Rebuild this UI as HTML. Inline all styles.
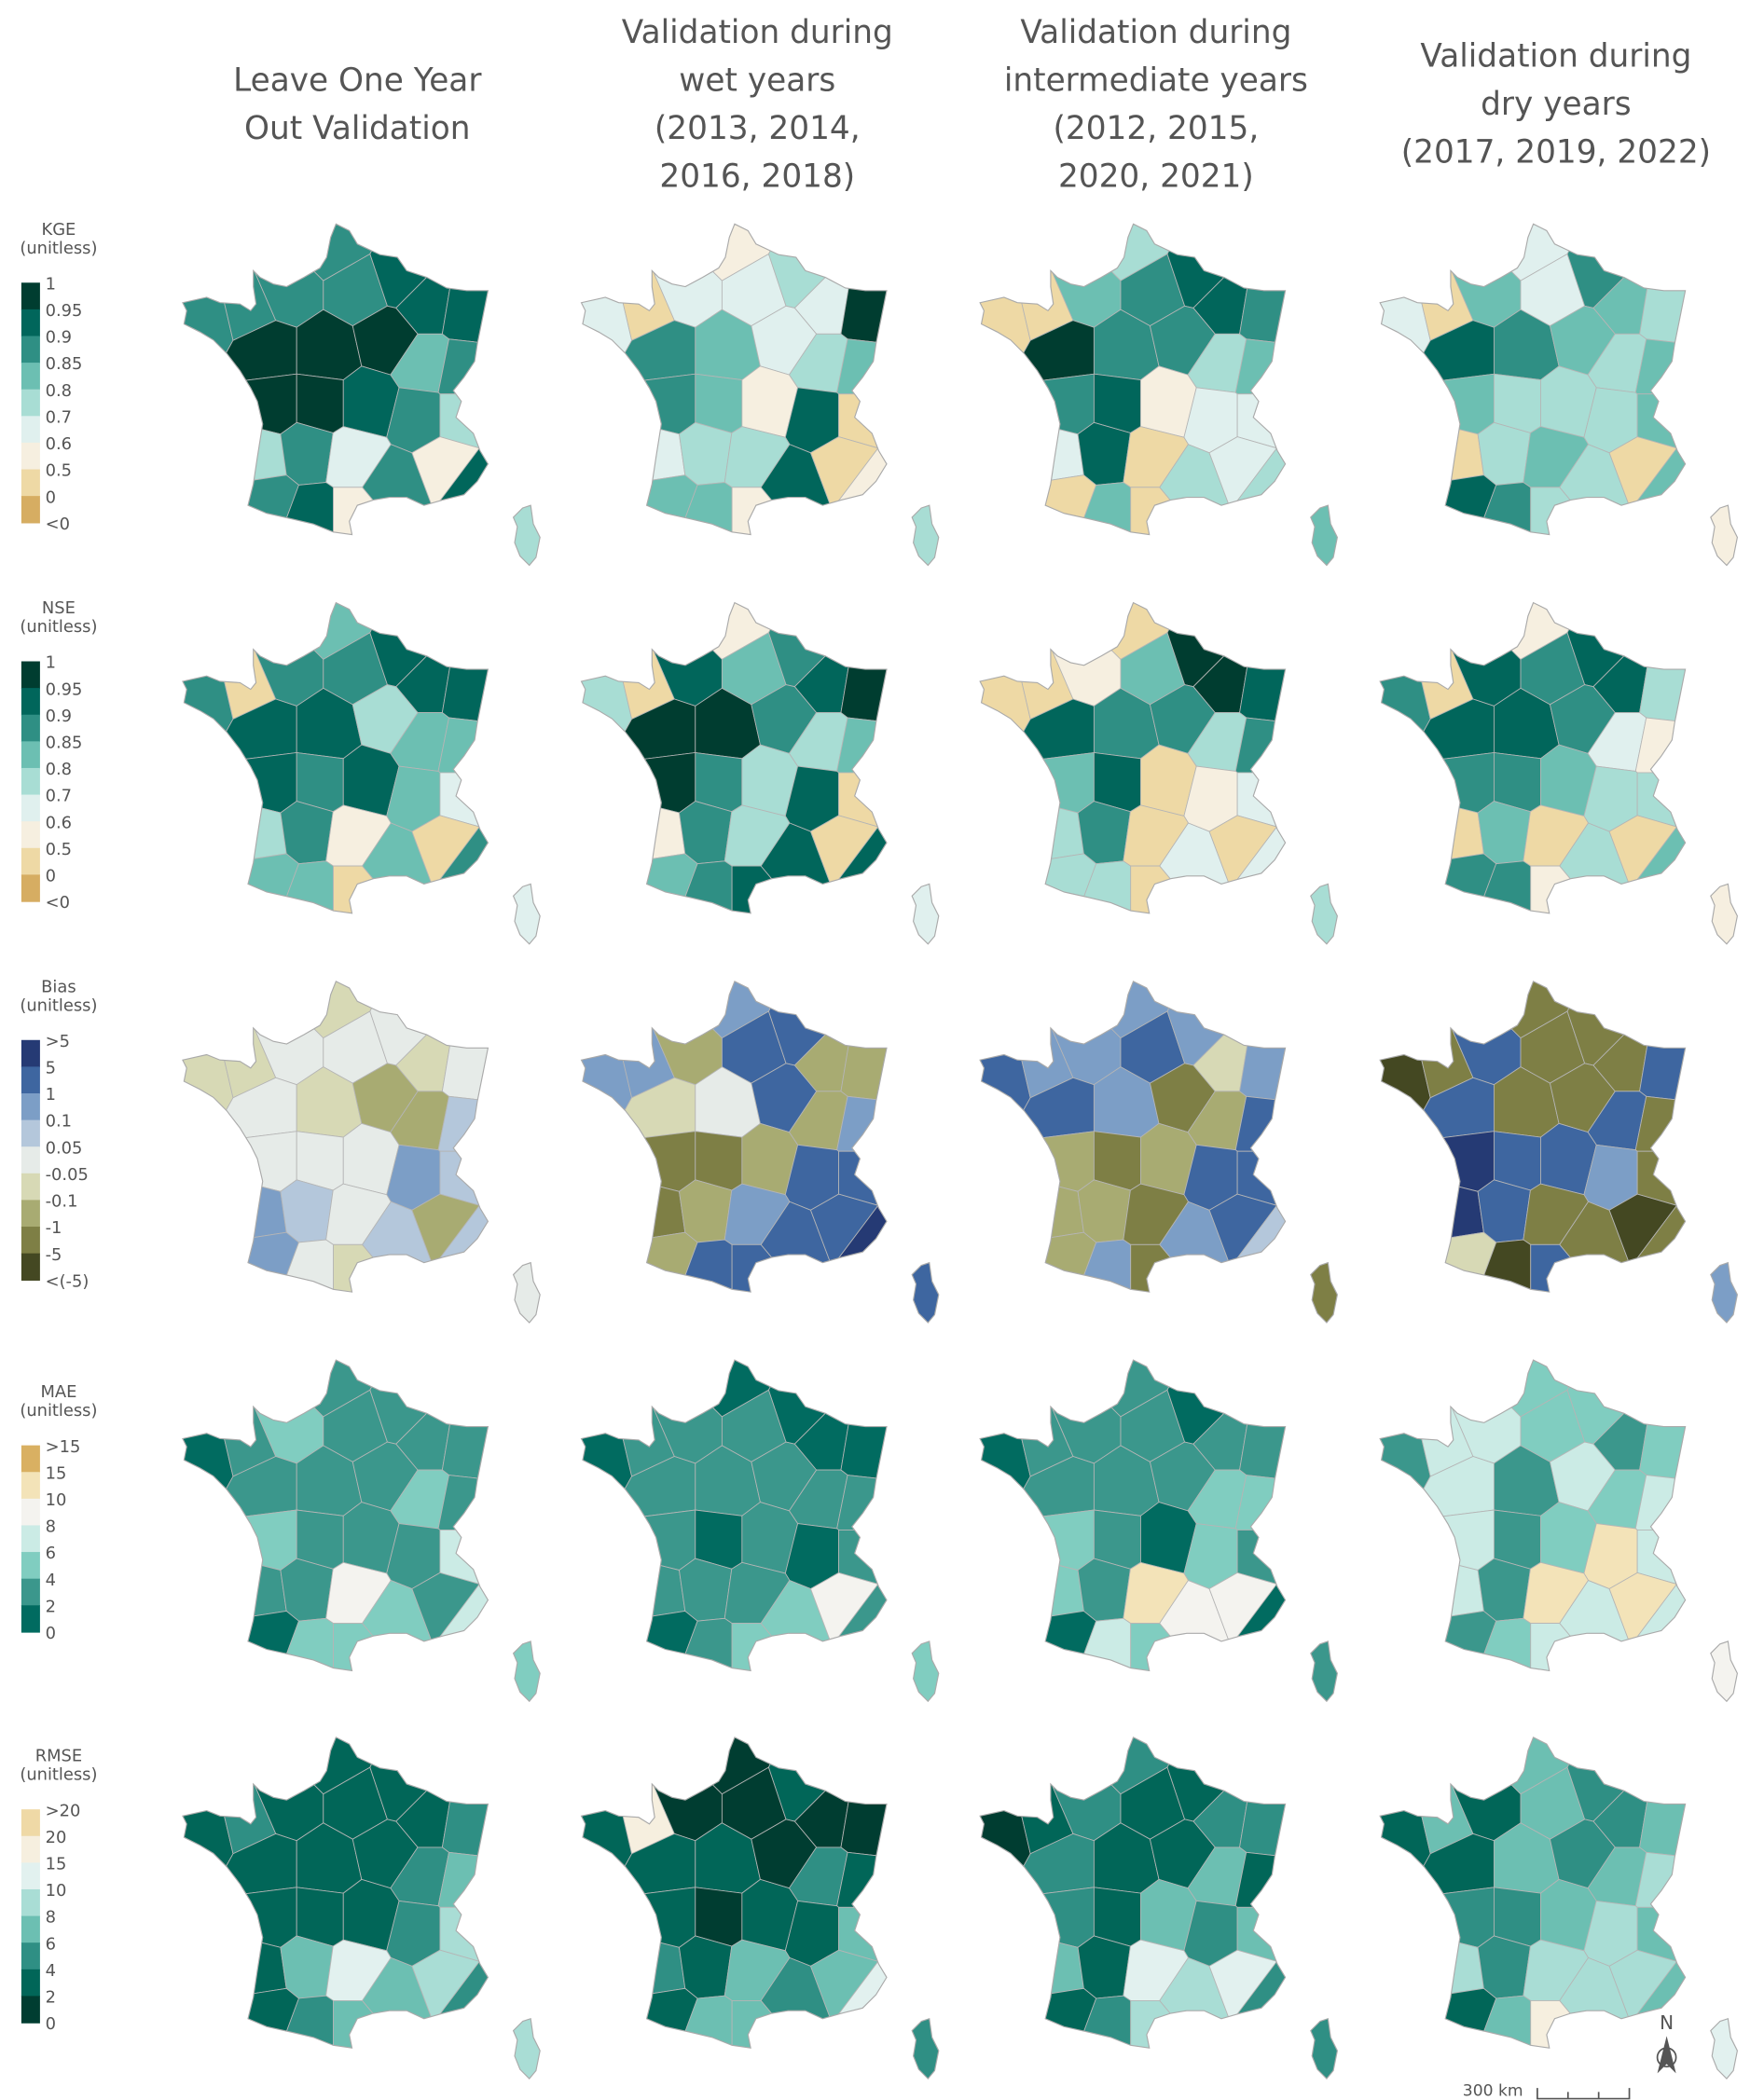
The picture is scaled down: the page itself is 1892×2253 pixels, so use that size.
<!DOCTYPE html>
<html><head><meta charset="utf-8"><style>
html,body{margin:0;padding:0;background:#fff;}
svg{display:block;font-family:"DejaVu Sans","Liberation Sans",sans-serif;}
</style></head><body>
<svg id="fig" width="1892" height="2253" viewBox="0 0 1323 1575" preserveAspectRatio="none" xmlns="http://www.w3.org/2000/svg">
<g id="titles" fill="#555" font-size="24" text-anchor="middle">
<text x="268" y="68">Leave One Year</text>
<text x="268" y="104">Out Validation</text>
<text x="568" y="32">Validation during</text>
<text x="568" y="68">wet years</text>
<text x="568" y="104">(2013, 2014,</text>
<text x="568" y="140">2016, 2018)</text>
<text x="867" y="32">Validation during</text>
<text x="867" y="68">intermediate years</text>
<text x="867" y="104">(2012, 2015,</text>
<text x="867" y="140">2020, 2021)</text>
<text x="1167" y="50">Validation during</text>
<text x="1167" y="86">dry years</text>
<text x="1167" y="122">(2017, 2019, 2022)</text>
</g>
<g id="maps"></g>
<g id="legends"></g>
<g id="scalebar" stroke="#555" fill="none" stroke-width="1.2">
<text x="1097" y="1572" fill="#555" stroke="none" font-size="12">300 km</text>
<path d="M1153 1566 V1574 H1222 V1566 M1176 1574 V1569 M1199 1574 V1569"/>
</g>
<g id="north-arrow">
<text x="1250" y="1522" fill="#555" font-size="14" text-anchor="middle">N</text>
<circle cx="1250" cy="1543" r="7" fill="none" stroke="#555" stroke-width="1.2"/>
<path d="M1250 1527 L1257 1555 L1250 1548 L1243 1555 Z" fill="#555"/>
</g>
</svg>
<script>
// ---- data ----
const seeds = [[155,235],[185,228],[215,215],[250,180],[270,215],[300,205],[320,225],[350,230],[200,260],[245,260],[290,250],[320,270],[345,275],[205,300],[240,300],[275,300],[315,310],[345,310],[195,340],[230,335],[265,340],[295,360],[335,345],[355,360],[200,372],[235,385],[265,385]];
const metrics = ["KGE","NSE","Bias","MAE","RMSE"];
const periods = ["loyo","wet","intermediate","dry"];
const kgeLabels = ["1","0.95","0.9","0.85","0.8","0.7","0.6","0.5","0","<0"];
const kgeEdges = [0.95,0.9,0.85,0.8,0.7,0.6,0.5,0];
const kgeColors = ["#003d30","#01665b","#2f8f84","#6cbfb2","#a8ddd4","#e0f0ee","#f6efe0","#eed9a5","#d6ad62"];
const biasLabels = [">5","5","1","0.1","0.05","-0.05","-0.1","-1","-5","<(-5)"];
const biasEdges = [5,1,0.1,0.05,-0.05,-0.1,-1,-5];
const biasColors = ["#253a74","#3e66a0","#7c9ec6","#b4c7db","#e6ebe8","#d7d9b5","#a8ab72","#7e7f45","#444822"];
const maeLabels = [">15","15","10","8","6","4","2","0"];
const maeEdges = [15,10,8,6,4,2];
const maeColors = ["#d9b062","#f3e3b8","#f4f3ef","#cbebe5","#80cdc0","#3b978c","#016b60"];
const rmseLabels = [">20","20","15","10","8","6","4","2","0"];
const rmseEdges = [20,15,10,8,6,4,2];
const rmseColors = ["#efd9a6","#f6efdf","#e2f1ef","#a9ddd5","#6cbfb2","#2f8f84","#016658","#003d31"];
// values per seed, last entry = Corsica
const kgeLoyo = [.87,.85,.87,.87,.87,.92,.92,.92,.97,.97,.97,.83,.87,.97,.97,.92,.87,.75,.75,.87,.65,.87,.55,.92,.87,.92,.55,.75];
const kgeWet = [.65,.4,.65,.55,.65,.75,.65,.97,.87,.83,.65,.75,.83,.87,.83,.55,.92,.3,.65,.75,.75,.92,.3,.55,.83,.83,.55,.75];
const kgeInter = [.2,.2,.83,.75,.87,.92,.92,.87,.97,.87,.87,.75,.83,.87,.92,.55,.65,.65,.65,.92,.45,.75,.65,.75,.45,.83,.45,.83];
const kgeDry = [.65,.45,.83,.65,.65,.87,.83,.75,.92,.87,.83,.75,.83,.83,.75,.75,.75,.83,.45,.75,.83,.75,.45,.83,.92,.87,.75,.55];
const nseLoyo = [.87,.45,.87,.83,.87,.92,.92,.92,.92,.92,.75,.83,.83,.92,.87,.92,.83,.65,.75,.87,.55,.83,.45,.87,.83,.83,.45,.65];
const nseWet = [.75,.4,.92,.55,.83,.87,.92,.97,.97,.97,.87,.75,.83,.97,.87,.75,.92,.3,.55,.87,.75,.92,.45,.92,.83,.87,.92,.65];
const nseInter = [.2,.2,.55,.45,.83,.97,.97,.92,.92,.87,.87,.75,.87,.83,.92,.3,.55,.65,.75,.87,.45,.65,.45,.65,.75,.75,.45,.75];
const nseDry = [.87,.45,.92,.55,.87,.92,.92,.75,.92,.92,.87,.65,.55,.87,.87,.83,.75,.75,.45,.83,.45,.75,.45,.83,.87,.87,.55,.55];
const biasLoyo = [-.07,-.07,0,-.07,0,0,-.07,0,0,-.07,-.5,-.5,.07,0,0,0,.5,.07,.5,.07,0,.07,-.5,.07,.5,0,-.07,0];
const biasWet = [.5,.5,-.5,.5,2,2,-.5,-.5,-.07,0,2,-.5,.5,-2,-2,-.5,2,2,-2,-.5,.5,2,2,6,-.5,2,2,2];
const biasInter = [2,.5,.5,.5,2,.5,-.07,.5,2,.5,-2,-.5,2,-.5,-2,-.5,2,2,-.5,-.5,-2,.5,2,.07,-.5,.5,-2,-2];
const biasDry = [-6,-2,2,-2,-2,-2,-2,2,2,-2,-2,2,-2,6,2,2,.5,-2,6,2,-2,-2,-6,-2,-.07,-6,2,.5];
const maeLoyo = [1,3,5,3,3,3,3,3,3,3,3,5,3,5,3,3,3,7,3,3,9,5,3,7,1,5,5,5];
const maeWet = [1,3,3,1,3,1,1,1,3,3,3,3,3,3,1,3,1,3,3,3,3,5,9,3,1,3,5,5];
const maeInter = [1,3,3,3,3,1,3,3,3,3,3,5,5,5,3,1,5,3,5,3,12,9,9,1,1,7,5,3];
const maeDry = [3,7,7,5,5,5,3,5,7,3,7,5,7,7,3,5,12,7,7,3,12,7,12,7,3,5,7,9];
const rmseLoyo = [3,5,3,3,3,3,3,5,3,3,3,5,7,3,3,3,5,9,3,7,12,7,9,5,3,5,7,9];
const rmseWet = [3,17,1,1,1,3,1,1,3,3,1,5,3,3,1,3,3,7,5,3,7,5,7,12,3,7,7,5];
const rmseInter = [1,3,5,5,3,3,5,5,5,3,3,7,3,5,3,7,5,7,7,3,12,9,12,5,3,5,9,5];
const rmseDry = [3,7,3,7,7,5,5,7,3,7,5,7,9,5,5,7,9,7,9,5,9,9,9,7,3,7,17,12];

// ---- layout ----
const scales = [
 {name:"KGE",labels:kgeLabels,edges:kgeEdges,colors:kgeColors,series:[kgeLoyo,kgeWet,kgeInter,kgeDry]},
 {name:"NSE",labels:kgeLabels,edges:kgeEdges,colors:kgeColors,series:[nseLoyo,nseWet,nseInter,nseDry]},
 {name:"Bias",labels:biasLabels,edges:biasEdges,colors:biasColors,series:[biasLoyo,biasWet,biasInter,biasDry]},
 {name:"MAE",labels:maeLabels,edges:maeEdges,colors:maeColors,series:[maeLoyo,maeWet,maeInter,maeDry]},
 {name:"RMSE",labels:rmseLabels,edges:rmseEdges,colors:rmseColors,series:[rmseLoyo,rmseWet,rmseInter,rmseDry]}
];
const colX=[0,299,598,898], rowY=[0,284,568,852,1135];
const outline=[[252,165],[262,170],[268,180],[285,188],[298,190],[305,200],[320,205],[335,213],[350,215],[366,215],[362,235],[358,255],[356,268],[348,280],[340,290],[346,298],[342,310],[355,322],[360,335],[366,345],[358,358],[348,368],[332,372],[318,376],[305,370],[292,370],[280,372],[268,376],[262,388],[264,398],[250,396],[235,390],[218,386],[200,382],[186,376],[190,360],[193,340],[197,315],[193,298],[188,288],[180,275],[170,262],[160,252],[150,246],[138,240],[140,230],[137,224],[155,220],[165,224],[180,225],[188,230],[192,225],[190,212],[190,200],[195,205],[205,210],[215,212],[228,205],[240,198],[245,190],[248,175]];
const corsica=[[392,378],[398,376],[400,390],[405,400],[402,415],[397,421],[390,414],[386,404],[388,392],[385,385]];
const NS="http://www.w3.org/2000/svg";
function colorFor(v,edges,colors){for(let i=0;i<edges.length;i++){if(v>=edges[i])return colors[i];}return colors[colors.length-1];}
function clipHalf(poly,a,b){ // keep points closer to a than b
  const mx=(a[0]+b[0])/2,my=(a[1]+b[1])/2,dx=b[0]-a[0],dy=b[1]-a[1];
  const f=p=>(p[0]-mx)*dx+(p[1]-my)*dy;
  const out=[];
  for(let i=0;i<poly.length;i++){const p=poly[i],q=poly[(i+1)%poly.length];const fp=f(p),fq=f(q);
    if(fp<=0)out.push(p);
    if((fp<0&&fq>0)||(fp>0&&fq<0)){const t=fp/(fp-fq);out.push([p[0]+t*(q[0]-p[0]),p[1]+t*(q[1]-p[1])]);}}
  return out;
}
const cells=seeds.map((s,i)=>{let poly=[[125,155],[375,155],[375,405],[125,405]];seeds.forEach((o,j)=>{if(i!==j)poly=clipHalf(poly,s,o);});return poly;});
const pts=p=>p.map(q=>q[0].toFixed(1)+","+q[1].toFixed(1)).join(" ");
const maps=document.getElementById("maps");
const defs=document.createElementNS(NS,"defs");maps.appendChild(defs);
const cp=document.createElementNS(NS,"clipPath");cp.setAttribute("id","franceClip");
const cpp=document.createElementNS(NS,"polygon");cpp.setAttribute("points",pts(outline));cp.appendChild(cpp);defs.appendChild(cp);
scales.forEach((sc,r)=>{
  sc.series.forEach((vals,c)=>{
    const g=document.createElementNS(NS,"g");
    g.setAttribute("transform","translate("+colX[c]+","+(rowY[r]+3)+")");
    
    
    const cg=document.createElementNS(NS,"g");cg.setAttribute("clip-path","url(#franceClip)");
    cells.forEach((poly,i)=>{
      const pg=document.createElementNS(NS,"polygon");
      pg.setAttribute("points",pts(poly));
      pg.setAttribute("fill",colorFor(vals[i],sc.edges,sc.colors));
      pg.setAttribute("stroke","#b5b5b5");pg.setAttribute("stroke-width","0.6");
      
      
      cg.appendChild(pg);
    });
    g.appendChild(cg);
    const ol=document.createElementNS(NS,"polygon");ol.setAttribute("points",pts(outline));
    ol.setAttribute("fill","none");ol.setAttribute("stroke","#aaa");ol.setAttribute("stroke-width","0.8");
    
    
    g.appendChild(ol);
    const co=document.createElementNS(NS,"polygon");co.setAttribute("points",pts(corsica));
    co.setAttribute("fill",colorFor(vals[seeds.length],sc.edges,sc.colors));co.setAttribute("stroke","#aaa");co.setAttribute("stroke-width","0.8");
    
    
    g.appendChild(co);
    maps.appendChild(g);
  });
  // legend
  const lg=document.getElementById("legends");
  const n=sc.colors.length, segH=20, center=302+rowY[r]+(r>=3?0:0);
  const top=center-n*segH/2;
  const g=document.createElementNS(NS,"g");
  
  
  const t1=document.createElementNS(NS,"text");t1.setAttribute("x","44");t1.setAttribute("y",top-36);t1.setAttribute("text-anchor","middle");t1.setAttribute("font-size","12.5");t1.setAttribute("fill","#555");t1.textContent=sc.name;
  
  
  const t2=document.createElementNS(NS,"text");t2.setAttribute("x","44");t2.setAttribute("y",top-22);t2.setAttribute("text-anchor","middle");t2.setAttribute("font-size","12.5");t2.setAttribute("fill","#555");t2.textContent="(unitless)";
  
  
  g.appendChild(t1);g.appendChild(t2);
  sc.colors.forEach((col,i)=>{
    const rc=document.createElementNS(NS,"rect");rc.setAttribute("x","16");rc.setAttribute("y",top+i*segH);rc.setAttribute("width","14");rc.setAttribute("height",segH+0.5);rc.setAttribute("fill",col);
    
    
    g.appendChild(rc);
  });
  sc.labels.forEach((lb,i)=>{
    const tx=document.createElementNS(NS,"text");tx.setAttribute("x","34");tx.setAttribute("y",top+i*segH+5);tx.setAttribute("font-size","12.5");tx.setAttribute("fill","#555");tx.textContent=lb;
    
    
    g.appendChild(tx);
  });
  lg.appendChild(g);
});
</script>
</body></html>
